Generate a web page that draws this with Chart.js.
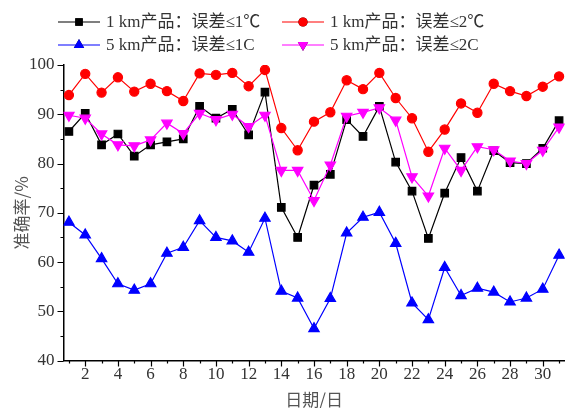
<!DOCTYPE html>
<html>
<head>
<meta charset="utf-8">
<script src="https://cdn.jsdelivr.net/npm/chart.js@4/dist/chart.umd.min.js"></script>
<style>
  html, body { margin: 0; padding: 0; background: #fff; }
  #wrap { width: 572px; height: 408px; }
</style>
</head>
<body>
<div id="wrap"><canvas id="accChart" width="572" height="408"></canvas></div>
<script>
// days of the month
const days = [1,2,3,4,5,6,7,8,9,10,11,12,13,14,15,16,17,18,19,20,21,22,23,24,25,26,27,28,29,30,31];
const xTickLabels = [2,4,6,8,10,12,14,16,18,20,22,24,26,28,30];
const yTickLabels = [40,50,60,70,80,90,100];

// accuracy (%) per day
const km1Err1 = [86.5,90.2,83.8,86,81.5,83.8,84.4,85,91.6,89.2,91,85.8,94.5,71.1,65,75.6,77.8,88.9,85.5,91.6,80.3,74.4,64.8,74,81.2,74.4,82.6,80.2,80,83.1,88.7];
const km1Err2 = [93.9,98.2,94.4,97.5,94.6,96.2,94.7,92.7,98.3,98,98.4,95.7,99,87.2,82.7,88.5,90.4,96.9,95.1,98.4,93.3,89.2,82.4,86.9,92.2,90.3,96.2,94.7,93.7,95.6,97.7];
const km5Err1 = [68.1,65.5,60.7,55.6,54.3,55.6,61.8,63,68.4,65,64.3,62,68.9,54.1,52.7,46.5,52.6,65.9,69.1,70.1,63.8,51.7,48.3,58.9,53.2,54.7,53.9,51.9,52.7,54.5,61.4];
const km5Err2 = [89.8,89.2,86,83.8,83.6,84.8,88.2,86.1,90.2,88.9,90,87.5,89.8,78.6,78.6,72.5,79.7,89.6,90.4,91.3,88.8,77.3,73.4,83.1,78.6,83.4,82.8,80.5,80,82.7,87.4];

const seriesNames = ['1 km产品：误差≤1℃', '1 km产品：误差≤2℃', '5 km产品：误差≤1C', '5 km产品：误差≤2C'];

const serif = "'Liberation Serif', 'Noto Sans CJK SC', serif";
const cjk = "'Noto Sans CJK SC', sans-serif";

function pts(vals) {
  return days.map((d, i) => ({ x: d, y: vals[i] }));
}

// legend drawn as 2x2 grid: line sample + marker + text
const legendPlugin = {
  id: 'gridLegend',
  afterDraw(chart) {
    const ctx = chart.ctx;
    const cols = [58, 282];
    const rows = [22, 45];
    chart.data.datasets.forEach((ds, i) => {
      const x0 = cols[i % 2];
      const y = rows[Math.floor(i / 2)];
      ctx.save();
      ctx.strokeStyle = ds.borderColor;
      ctx.lineWidth = 1.2;
      ctx.beginPath();
      ctx.moveTo(x0, y);
      ctx.lineTo(x0 + 42, y);
      ctx.stroke();
      Chart.helpers.drawPoint(ctx, {
        pointStyle: ds.pointStyle,
        radius: ds.pointRadius,
        rotation: ds.rotation || 0,
        borderWidth: 0
      }, x0 + 21, y);
      ctx.fillStyle = ds.backgroundColor;
      ctx.fill();
      ctx.fillStyle = '#333';
      ctx.font = '17px ' + serif;
      ctx.textBaseline = 'middle';
      ctx.fillText(ds.label, x0 + 48, y + 1);
      ctx.restore();
    });
  }
};

// outward major/minor tick marks
const tickPlugin = {
  id: 'tickMarks',
  afterDraw(chart) {
    const ctx = chart.ctx;
    const xs = chart.scales.x, ys = chart.scales.y;
    const a = chart.chartArea;
    ctx.save();
    ctx.strokeStyle = '#000';
    ctx.lineWidth = 1.2;
    ctx.beginPath();
    days.forEach(d => {
      const px = Math.round(xs.getPixelForValue(d)) + 0.5;
      const len = d % 2 === 0 ? 6 : 3;
      ctx.moveTo(px, a.bottom);
      ctx.lineTo(px, a.bottom + len);
    });
    for (let v = yTickLabels[0]; v <= yTickLabels[yTickLabels.length - 1]; v += 5) {
      const py = Math.round(ys.getPixelForValue(v)) + 0.5;
      const len = v % 10 === 0 ? 6 : 3;
      ctx.moveTo(a.left, py);
      ctx.lineTo(a.left - len, py);
    }
    ctx.stroke();
    ctx.restore();
  }
};

const ctx = document.getElementById('accChart');

new Chart(ctx, {
  type: 'line',
  data: {
    datasets: [
      {
        label: seriesNames[0], data: pts(km1Err1),
        borderColor: '#000000', backgroundColor: '#000000',
        pointStyle: 'rect', pointRadius: 5.3, borderWidth: 1.2, order: 1
      },
      {
        label: seriesNames[1], data: pts(km1Err2),
        borderColor: '#ff0000', backgroundColor: '#ff0000',
        pointStyle: 'circle', pointRadius: 4.6, borderWidth: 1.2, order: 3
      },
      {
        label: seriesNames[2], data: pts(km5Err1),
        borderColor: '#0000ff', backgroundColor: '#0000ff',
        pointStyle: 'triangle', pointRadius: 6, borderWidth: 1.2, order: 2
      },
      {
        label: seriesNames[3], data: pts(km5Err2),
        borderColor: '#ff00ff', backgroundColor: '#ff00ff',
        pointStyle: 'triangle', rotation: 180, pointRadius: 6, borderWidth: 1.2, order: 0
      }
    ]
  },
  options: {
    responsive: false,
    animation: false,
    events: [],
    layout: { padding: { top: 65, right: 1, left: 13, bottom: 0 } },
    elements: {
      line: { tension: 0 },
      point: { borderWidth: 0, hoverRadius: 0 }
    },
    plugins: {
      legend: { display: false },
      tooltip: { enabled: false }
    },
    scales: {
      x: {
        type: 'linear',
        min: 0.67,
        max: 31.35,
        afterBuildTicks: (s) => { s.ticks = xTickLabels.map(v => ({ value: v })); },
        ticks: { color: '#333', padding: 4, maxRotation: 0, font: { family: serif, size: 17 } },
        grid: { display: false, drawTicks: false },
        border: { color: '#000', width: 1.5 },
        title: { display: true, text: '日期/日', color: '#555', font: { family: cjk, size: 17, lineHeight: 1 }, padding: { top: 2, bottom: 0 } }
      },
      y: {
        min: 40,
        max: 100,
        afterBuildTicks: (s) => { s.ticks = yTickLabels.map(v => ({ value: v })); },
        ticks: { color: '#333', padding: 9, font: { family: serif, size: 17 } },
        grid: { display: false, drawTicks: false },
        border: { color: '#000', width: 1.5 },
        title: { display: true, text: '准确率/%', color: '#555', font: { family: cjk, size: 17, lineHeight: 1 }, padding: { top: 0, bottom: -10 } }
      }
    }
  },
  plugins: [legendPlugin, tickPlugin]
});
</script>
</body>
</html>
